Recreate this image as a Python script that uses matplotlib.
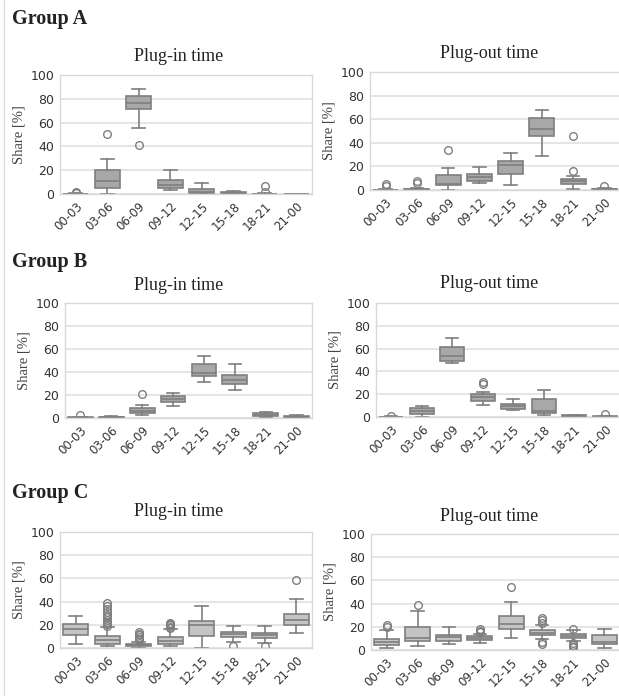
import matplotlib
matplotlib.use("Agg")
import matplotlib.pyplot as plt
from matplotlib.lines import Line2D

slots = ["00-03", "03-06", "06-09", "09-12", "12-15", "15-18", "18-21", "21-00"]
groups = ["Group A", "Group B", "Group C"]
titles = ["Plug-in time", "Plug-out time"]

# box stats per panel: q1, median, q3, lower whisker, upper whisker, outliers
a_in_q1 = [0, 5, 71.2, 5, 0.8, 0, 0, 0]
a_in_med = [0, 10.6, 76.3, 7.8, 1.7, 0.5, 0, 0]
a_in_q3 = [0.3, 20, 82.4, 12, 4.2, 1.5, 0.3, 0.2]
a_in_lo = [0, 0, 55.3, 3.1, 0, 0, 0, 0]
a_in_hi = [0.5, 29.3, 88.3, 19.8, 9, 2.5, 0.5, 0.3]
a_in_out = [[1.5, 0.5], [50.6], [41.3], [], [], [], [7, 2], []]

a_out_q1 = [0, 0, 4.2, 7.3, 13.6, 45.5, 5.1, 0]
a_out_med = [0, 0.5, 5.1, 10.7, 21.5, 51.7, 7.3, 0.5]
a_out_q3 = [0.3, 1, 12.4, 13.8, 24.3, 60.7, 9.3, 1]
a_out_lo = [0, 0, 0, 5.6, 4.5, 28.8, 1, 0]
a_out_hi = [0.5, 2, 18.4, 19.5, 31, 67.5, 11.6, 2]
a_out_out = [[5, 3], [7.3, 6], [34.2], [], [], [], [45.5, 15.8], [3]]

b_in_q1 = [0, 0.3, 4.1, 13.9, 36.8, 29.3, 1.7, 0.6]
b_in_med = [0.3, 0.7, 6.4, 16.5, 39.1, 33.3, 2.9, 1.1]
b_in_q3 = [0.6, 1.2, 8.4, 19.4, 46.7, 37.1, 4.1, 1.7]
b_in_lo = [0, 0, 2.9, 10.7, 31.3, 24.6, 0.6, 0.3]
b_in_hi = [1, 2, 11.3, 21.4, 53.9, 46.7, 5.5, 2.3]
b_in_out = [[2.5], [], [20.6], [], [], [], [], []]

b_out_q1 = [0, 2.3, 48.7, 14.1, 6.7, 3.2, 0.3, 0]
b_out_med = [0, 5, 53.1, 17.6, 9.4, 5.6, 0.8, 0.2]
b_out_q3 = [0.3, 7.9, 61, 20.2, 11.4, 15.8, 1.5, 0.5]
b_out_lo = [0, 0, 47.2, 10.6, 5.9, 1.5, 0, 0]
b_out_hi = [0.5, 10, 69.5, 21.7, 15.5, 23.5, 2, 0.8]
b_out_out = [[1], [], [], [30.5, 28.7], [], [], [], [2.3]]

c_in_q1 = [11.5, 3.7, 1.4, 3.7, 10, 9.5, 8.9, 19.8]
c_in_med = [16.7, 6.6, 2.3, 6.3, 19.8, 11.8, 11.5, 23.9]
c_in_q3 = [21, 10.3, 3.4, 9.5, 23, 13.8, 13.2, 29.6]
c_in_lo = [3.2, 1.7, 0.3, 1.7, 0, 4.9, 4, 13.2]
c_in_hi = [27.6, 18.1, 5.2, 16.1, 36.2, 18.7, 19.3, 42.2]
c_in_out = [[], [39.2, 36.5, 33.8, 31, 28.7, 26.5, 24.4, 22.4, 20.4, 19],
            [6.6, 8, 9.5, 11, 12.5, 13.8], [17.5, 18.5, 19.5, 20.5, 21.5],
            [], [1.7], [1.7], [58.3]]

c_out_q1 = [4.3, 8, 7.4, 8.3, 18.3, 12.9, 10.3, 5.4]
c_out_med = [6.9, 10.3, 10.9, 10.3, 22.6, 14.6, 12.3, 6.9]
c_out_q3 = [9.5, 19.5, 13.2, 11.7, 29.5, 17.2, 14, 13.2]
c_out_lo = [1.7, 3.4, 5.2, 5.7, 10.3, 9.2, 7.4, 2]
c_out_hi = [17.5, 33.8, 19.5, 13.8, 41.8, 21.8, 17.5, 18]
c_out_out = [[21.8, 19.8], [39], [], [18, 16.3, 15.5], [54.2],
             [27.2, 25.5, 23.2, 6.6, 5.4], [18.3, 5.7, 4.3, 3, 2.2], []]

panels = [
    [(a_in_q1, a_in_med, a_in_q3, a_in_lo, a_in_hi, a_in_out),
     (a_out_q1, a_out_med, a_out_q3, a_out_lo, a_out_hi, a_out_out)],
    [(b_in_q1, b_in_med, b_in_q3, b_in_lo, b_in_hi, b_in_out),
     (b_out_q1, b_out_med, b_out_q3, b_out_lo, b_out_hi, b_out_out)],
    [(c_in_q1, c_in_med, c_in_q3, c_in_lo, c_in_hi, c_in_out),
     (c_out_q1, c_out_med, c_out_q3, c_out_lo, c_out_hi, c_out_out)],
]

W, H = 619, 696
# axes rectangles in pixels: left, top(=100), right, bottom(=0)
rects = [
    [(60, 75, 312, 194), (370, 72, 620, 190)],
    [(65, 303, 312, 418), (376, 303, 620, 417)],
    [(60, 532, 312, 648), (371, 534, 620, 650)],
]
# title baselines in pixels from top
title_base = [[61, 58], [290, 288], [516, 521]]
title_cx = [179, 489]
group_base = [24, 267, 498]
face_cols = ["#a8a8a8", "#a8a8a8", "#c4c4c4"]
edge = "#7f7f7f"

serif = "Liberation Serif"
sans = "DejaVu Sans"

fig = plt.figure(figsize=(W / 100, H / 100), dpi=100)
fig.patch.set_facecolor("white")

# faint page border on the left
fig.add_artist(Line2D([4 / W, 4 / W], [0, 1], color="#dddddd", lw=1,
                      transform=fig.transFigure))

for g in range(3):
    fig.text(12 / W, 1 - group_base[g] / H, groups[g], fontfamily=serif,
             fontweight="bold", fontsize=14.5, va="baseline", ha="left", color="#222222")
    for p in range(2):
        l, t, r, b = rects[g][p]
        ax = fig.add_axes([l / W, 1 - b / H, (r - l) / W, (b - t) / H])
        q1, med, q3, lo, hi, out = panels[g][p]
        stats = []
        for i in range(len(slots)):
            stats.append({"q1": q1[i], "med": med[i], "q3": q3[i],
                          "whislo": lo[i], "whishi": hi[i],
                          "fliers": out[i], "label": slots[i]})
        ax.bxp(stats, positions=range(len(slots)), widths=0.8, patch_artist=True,
               capwidths=0.4,
               boxprops=dict(facecolor=face_cols[g], edgecolor=edge, linewidth=1.2),
               medianprops=dict(color=edge, linewidth=1.2),
               whiskerprops=dict(color=edge, linewidth=1.2),
               capprops=dict(color=edge, linewidth=1.2),
               flierprops=dict(marker="o", markerfacecolor="none",
                               markeredgecolor=edge, markersize=5.5, linewidth=0))
        ax.set_xlim(-0.5, len(slots) - 0.5)
        ax.set_ylim(0, 100)
        ax.set_yticks([0, 20, 40, 60, 80, 100])
        ax.set_axisbelow(True)
        ax.grid(axis="y", color="#e0e0e0", linewidth=1.2)
        for s in ax.spines.values():
            s.set_color("#d9d9d9")
            s.set_linewidth(1)
        ax.tick_params(length=0, labelsize=9, colors="#333333", pad=4)
        ax.set_xticks(range(len(slots)))
        ax.set_xticklabels(slots, rotation=45, ha="right", rotation_mode="anchor",
                           fontfamily=sans, fontsize=8.5)
        for lab in ax.get_yticklabels():
            lab.set_fontfamily(sans)
        ax.set_ylabel("Share [%]", fontfamily=serif, fontsize=10.5, color="#444444",
                      labelpad=4)
        fig.text(title_cx[p] / W, 1 - title_base[g][p] / H, titles[p], fontfamily=serif,
                 fontsize=13, color="#222222", ha="center", va="baseline")

fig.savefig("out.png", dpi=100, facecolor="white")
